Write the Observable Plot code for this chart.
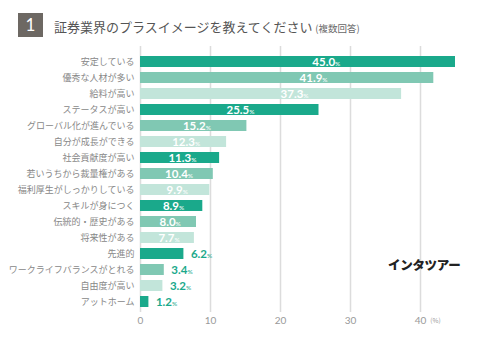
<!DOCTYPE html>
<html><head><meta charset="utf-8">
<script src="https://cdn.jsdelivr.net/npm/d3@7"></script>
<script src="https://cdn.jsdelivr.net/npm/@observablehq/plot@0.6"></script>
<style>
body{margin:0;background:#fff;width:490px;height:344px;overflow:hidden;font-family:"Noto Sans CJK JP","Noto Sans",sans-serif;}
#wrap{position:relative;width:490px;height:344px;}
#head{position:relative;height:45px;}
#num{position:absolute;left:18px;top:13px;width:25px;height:24px;background:#6d6863;color:#fff;font:17px/24px Lato,"Noto Sans",sans-serif;text-align:center;}
#title{position:absolute;left:54px;top:17px;font-size:13px;line-height:20px;color:#555;white-space:nowrap;}
#title span{font-size:9.5px;color:#666;}
#brand{position:absolute;left:388px;top:255px;font-size:12.5px;font-weight:900;color:#222;letter-spacing:-0.3px;}
</style></head>
<body><div id="wrap">
<div id="head"><div id="num">1</div><div id="title">証券業界のプラスイメージを教えてください <span>(複数回答)</span></div></div>
<div id="chart"></div>
<div id="brand">インタツアー</div>
</div>
<script>
const categories = ["安定している","優秀な人材が多い","給料が高い","ステータスが高い","グローバル化が進んでいる","自分が成長ができる","社会貢献度が高い","若いうちから裁量権がある","福利厚生がしっかりしている","スキルが身につく","伝統的・歴史がある","将来性がある","先進的","ワークライフバランスがとれる","自由度が高い","アットホーム"];
const values = [45.0,41.9,37.3,25.5,15.2,12.3,11.3,10.4,9.9,8.9,8.0,7.7,6.2,3.4,3.2,1.2];
const xTicks = [0,10,20,30,40];
const unitLabel = "(%)";

const colors = ["#1aa98b","#80c8b3","#c2e5da"];
const data = categories.map((c,i)=>({cat:c, v:values[i], shade:i%3, inside: values[i] >= 7}));

const plot = Plot.plot({
  width: 490, height: 299,
  marginLeft: 140, marginRight: 14, marginTop: 1, marginBottom: 32,
  style: {fontFamily: '"Noto Sans CJK JP","Noto Sans",sans-serif', background: "transparent"},
  x: {domain: [0, 48], axis: null, label: null},
  y: {domain: categories, range: [4.8, 267.2], paddingInner: 0.33, paddingOuter: 0.165, axis: null, label: null},
  marks: [
    Plot.ruleX(xTicks, {stroke: "#dcdcdc", strokeWidth: 1.5}),
    Plot.barX(data, {y: "cat", x: "v", fill: d => colors[d.shade]}),
    Plot.axisY({tickSize: 0, tickPadding: 6, fontSize: 9, fill: "#888", label: null}),
    Plot.axisX(xTicks, {tickSize: 0, tickPadding: 4, fontSize: 10, fill: "#999", fontFamily: "Lato, sans-serif", label: null}),
    Plot.text([xTicks[xTicks.length-1]], {x: d => d, frameAnchor: "bottom", dy: 10, dx: 15, text: () => unitLabel, fontSize: 6.5, fill: "#999"}),
    Plot.text(data.filter(d => d.inside), {y: "cat", x: d => d.v * (d.v > 30 ? 0.59 : d.v > 20 ? 0.56 : 0.53), text: d => d.v.toFixed(1) + "%", fill: "#fff", fontWeight: "bold", fontSize: 11.5, fontFamily: "Lato, sans-serif", textAnchor: "middle"}),
    Plot.text(data.filter(d => !d.inside), {y: "cat", x: "v", dx: 7, text: d => d.v.toFixed(1) + "%", fill: "#1aa98b", fontWeight: "bold", fontSize: 11.5, fontFamily: "Lato, sans-serif", textAnchor: "start"})
  ]
});
document.getElementById("chart").appendChild(plot);
d3.select(plot).selectAll("text").each(function(){
  const t = this.textContent;
  const m = /^(\d+\.\d)%$/.exec(t);
  if (m) {
    const s = d3.select(this);
    s.text(m[1]);
    s.append("tspan").attr("font-size", 6.5).attr("font-weight","normal").text("%");
  }
});
</script>
</body></html>
